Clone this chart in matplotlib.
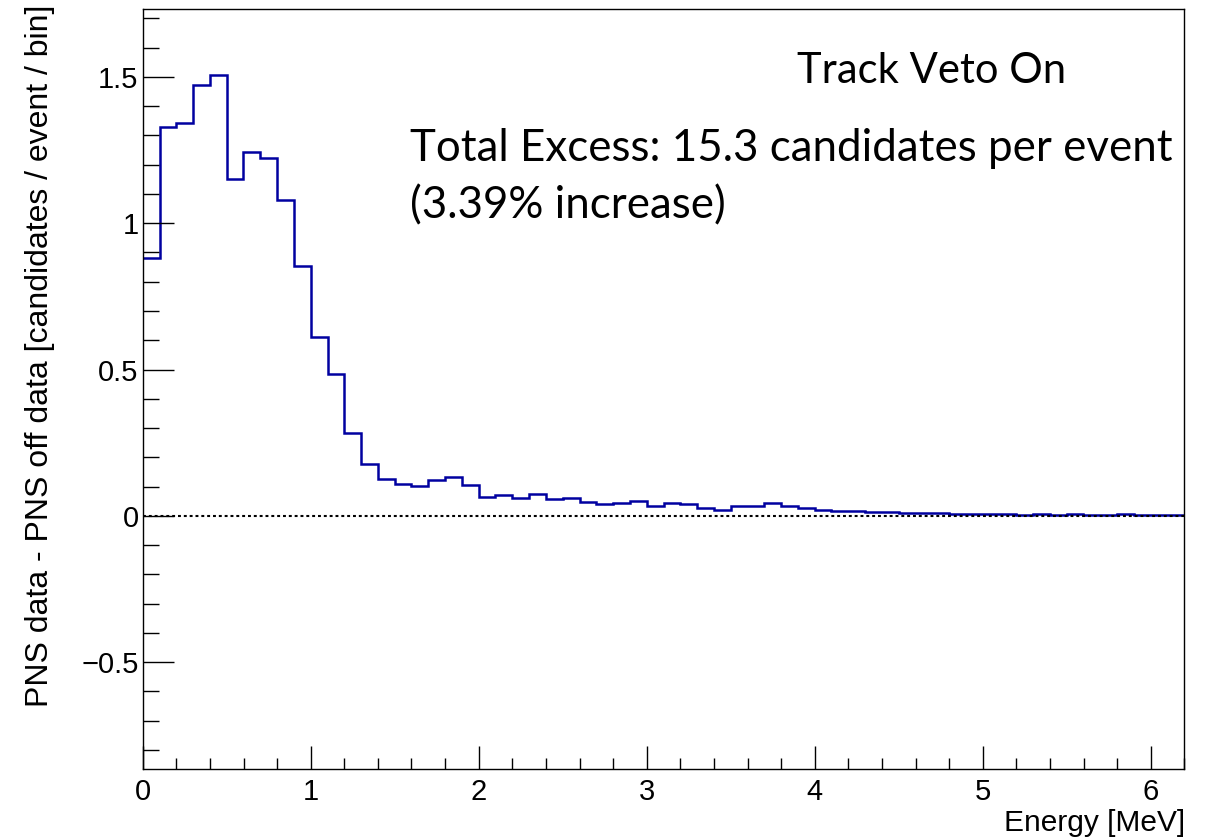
import matplotlib
matplotlib.use("Agg")
import matplotlib.pyplot as plt
from matplotlib.ticker import MultipleLocator, FixedLocator, FixedFormatter

# Excess of PNS-on over PNS-off data, per 0.1 MeV energy bin
bin_edges_mev = [round(0.1 * i, 1) for i in range(63)]
excess_per_bin = [
    0.880, 1.328, 1.342, 1.471, 1.505, 1.152, 1.244, 1.223, 1.080, 0.855,
    0.610, 0.485, 0.283, 0.176, 0.126, 0.110, 0.102, 0.124, 0.133, 0.105,
    0.066, 0.070, 0.060, 0.076, 0.057, 0.061, 0.049, 0.040, 0.045, 0.050,
    0.035, 0.045, 0.040, 0.028, 0.021, 0.033, 0.033, 0.043, 0.035, 0.028,
    0.021, 0.018, 0.018, 0.013, 0.012, 0.010, 0.010, 0.010, 0.005, 0.005,
    0.005, 0.005, 0.002, 0.005, 0.002, 0.005, 0.002, 0.002, 0.006, 0.002,
    0.002, 0.002,
]
y_ticks = [-0.5, 0, 0.5, 1, 1.5]
y_tick_labels = ["\u22120.5", "0", "0.5", "1", "1.5"]
x_ticks = [0, 1, 2, 3, 4, 5, 6]

W, H = 1210, 838
fig = plt.figure(figsize=(W / 100, H / 100), dpi=100)
ax = fig.add_axes([142.7 / W, 1 - 769.3 / H, (1184.3 - 142.7) / W, (769.3 - 9) / H])

axis_font = "Liberation Sans"
note_font = "Lato"

ax.stairs(excess_per_bin, bin_edges_mev, baseline=None,
          color="#0000a0", linewidth=1.8)
ax.axhline(0, color="black", linewidth=1.5, linestyle=(0, (1.4, 1.4)), zorder=1)

ax.set_xlim(0, 6.2)
ax.set_ylim(-0.866, 1.732)

ax.xaxis.set_major_locator(FixedLocator(x_ticks))
ax.xaxis.set_minor_locator(MultipleLocator(0.2))
ax.yaxis.set_major_locator(FixedLocator(y_ticks))
ax.yaxis.set_major_formatter(FixedFormatter(y_tick_labels))
ax.yaxis.set_minor_locator(MultipleLocator(0.1))

ax.tick_params(axis="both", which="both", direction="in", top=False, right=False,
               width=1, color="black")
ax.tick_params(axis="y", which="major", length=22.3, pad=3)
ax.tick_params(axis="y", which="minor", length=11.5)
ax.tick_params(axis="x", which="major", length=16.6, pad=6.5)
ax.tick_params(axis="x", which="minor", length=7.9)
for lab in ax.get_xticklabels() + ax.get_yticklabels():
    lab.set_fontfamily(axis_font)
    lab.set_fontsize(21)

for s in ax.spines.values():
    s.set_linewidth(1)
    s.set_color("black")

fig.text(40 / W, 1 - 5 / H, "PNS data - PNS off data [candidates / event / bin]",
         rotation=90, ha="center", va="top", fontsize=23, family=axis_font)
fig.text(1185 / W, 7 / H, "Energy [MeV]", ha="right", va="baseline",
         fontsize=21.5, family=axis_font)

fig.text(797 / W, 1 - 83 / H, "Track Veto On", ha="left", va="baseline",
         fontsize=30.1, family=note_font)
fig.text(410 / W, 1 - 161 / H, "Total Excess: 15.3 candidates per event",
         ha="left", va="baseline", fontsize=31.6, family=note_font)
fig.text(410 / W, 1 - 218 / H, "(3.39% increase)",
         ha="left", va="baseline", fontsize=31.6, family=note_font)

fig.savefig("out.png", dpi=100)
